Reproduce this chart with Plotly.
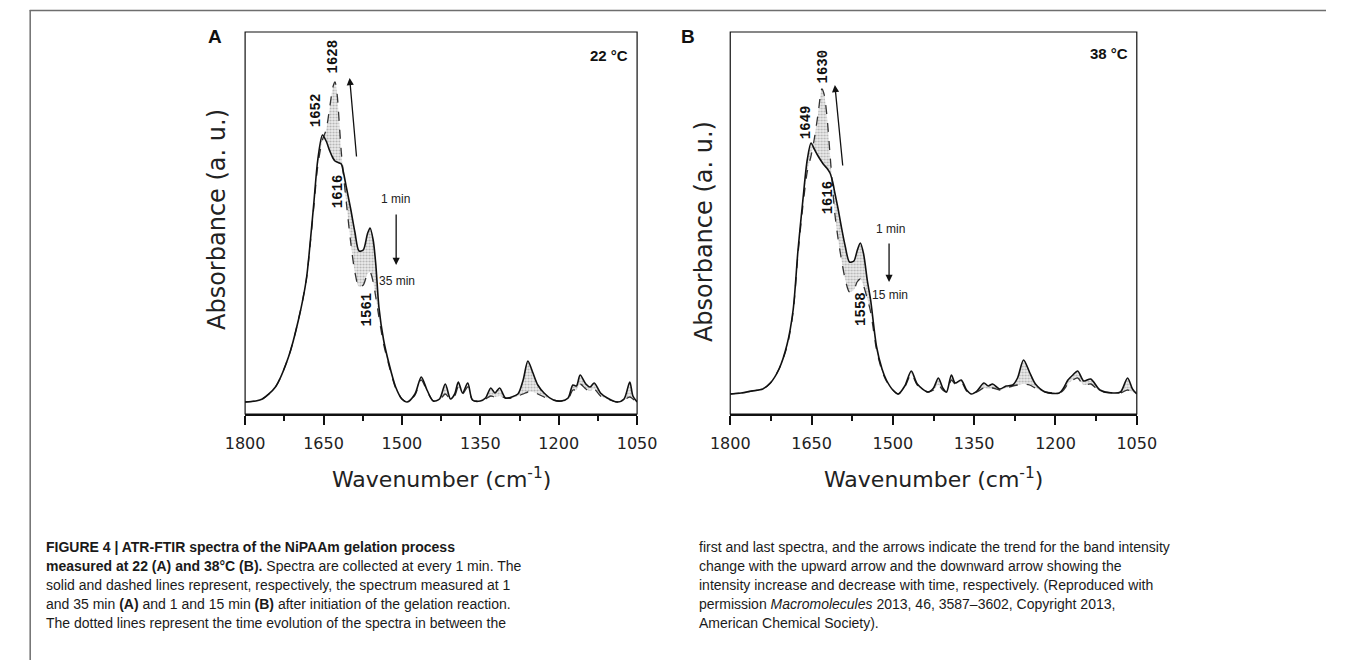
import plotly.graph_objects as go

# ---------------- data ----------------
wn_a = [1800, 1780, 1767, 1742, 1717, 1698, 1683, 1675, 1668, 1661,
        1652, 1645, 1638, 1632, 1628, 1624, 1620, 1616, 1612, 1606,
        1598, 1590, 1582, 1574, 1566, 1561, 1555, 1550, 1544, 1535,
        1525, 1512, 1500, 1490, 1475, 1463, 1452, 1440, 1428, 1417,
        1407, 1399, 1392, 1384, 1374, 1365, 1350, 1340, 1330, 1322,
        1313, 1302, 1290, 1278, 1268, 1259, 1250, 1240, 1228, 1210,
        1195, 1182, 1173, 1166, 1159, 1148, 1140, 1132, 1120, 1107,
        1088, 1075, 1064, 1058, 1050]
a_1min = [0, 1, 3, 15, 45, 82, 122, 162, 202, 242,
          267, 261, 251, 244, 241, 240, 239, 238, 230, 214,
          193, 170, 151, 152, 168, 174, 162, 138, 95, 62,
          39, 15, 3, 0, 8, 25, 12, 1, 3, 18,
          3, 8, 20, 9, 19, 2, 1, 4, 14, 9,
          14, 4, 5, 8, 22, 41, 30, 17, 9, 2,
          1, 4, 17, 16, 27, 18, 15, 19, 9, 4,
          0, 3, 20, 6, 0]
a_35min = [0, 1, 3, 15, 45, 82, 122, 160, 198, 236,
           262, 272, 295, 315, 320, 308, 280, 250, 228, 198,
           160, 130, 115, 117, 128, 130, 120, 105, 85, 58,
           37, 14, 3, 0, 7, 22, 11, 1, 2, 8,
           3, 6, 15, 8, 15, 2, 1, 3, 6, 5,
           6, 4, 4, 6, 8, 10, 10, 8, 5, 2,
           1, 3, 12, 12, 18, 13, 11, 13, 6, 3,
           0, 2, 5, 3, 0]

wn_b = [1800, 1780, 1760, 1740, 1726, 1710, 1695, 1684, 1675, 1666,
        1658, 1651, 1645, 1638, 1631, 1627, 1622, 1616, 1611, 1607,
        1601, 1595, 1588, 1580, 1572, 1566, 1560, 1554, 1547, 1541,
        1530, 1520, 1512, 1500, 1490, 1478, 1466, 1455, 1435, 1425,
        1416, 1408, 1401, 1392, 1385, 1374, 1364, 1355, 1345, 1332,
        1324, 1316, 1303, 1291, 1279, 1270, 1259, 1248, 1237, 1219,
        1193, 1185, 1177, 1168, 1159, 1148, 1135, 1118, 1094, 1080,
        1067, 1058, 1050]
b_1min = [0, 1, 3, 5, 11, 25, 50, 84, 144, 194,
          234, 251, 245, 238, 232, 229, 226, 221, 212, 201,
          185, 167, 148, 132, 133, 143, 151, 140, 113, 94,
          47, 25, 14, 4, 0, 8, 23, 10, 2, 6,
          16, 6, 2, 19, 11, 14, 4, 0, 3, 11,
          8, 10, 5, 8, 9, 16, 34, 22, 10, 2,
          1, 6, 14, 19, 23, 13, 15, 4, 1, 2,
          16, 5, 0]
b_15min = [0, 1, 3, 5, 11, 25, 48, 82, 140, 188,
           222, 238, 255, 280, 305, 300, 280, 240, 205, 180,
           155, 135, 115, 102, 104, 112, 115, 108, 95, 82,
           44, 23, 13, 4, 0, 7, 20, 9, 2, 4,
           9, 4, 2, 14, 10, 12, 3, 0, 2, 6,
           5, 6, 4, 6, 8, 9, 10, 9, 6, 2,
           1, 4, 10, 14, 16, 9, 10, 3, 1, 1,
           4, 2, 0]

tick_vals = [1800, 1650, 1500, 1350, 1200, 1050]
tick_text = ["1800", "1650", "1500", "1350", "1200", "1050"]
minor_vals = [1725, 1575, 1425, 1275, 1125]

peaks_a = [(1664, 292, "1652"), (1631, 346, "1628"), (1622, 211, "1616"), (1566, 93, "1561")]
peaks_b = [(1660, 272, "1649"), (1628, 328, "1630"), (1619, 197, "1616"), (1559, 85, "1558")]

caption_left = [
    "<b>FIGURE 4 | ATR-FTIR spectra of the NiPAAm gelation process</b>",
    "<b>measured at 22 (A) and 38°C (B).</b> Spectra are collected at every 1 min. The",
    "solid and dashed lines represent, respectively, the spectrum measured at 1",
    "and 35 min <b>(A)</b> and 1 and 15 min <b>(B)</b> after initiation of the gelation reaction.",
    "The dotted lines represent the time evolution of the spectra in between the",
]
caption_right = [
    "first and last spectra, and the arrows indicate the trend for the band intensity",
    "change with the upward arrow and the downward arrow showing the",
    "intensity increase and decrease with time, respectively. (Reproduced with",
    "permission <i>Macromolecules</i> 2013, 46, 3587–3602, Copyright 2013,",
    "American Chemical Society).",
]

# ---------------- layout constants ----------------
W, H = 1346, 660
def px(x):
    return x / W
def py(y):
    return 1 - y / H

Y_DOM = [py(414), py(32)]
SANS = "Liberation Sans, Arial, Helvetica"
AXFONT = "DejaVu Sans, Verdana"
MONO = "Liberation Mono, DejaVu Sans Mono, monospace"

fig = go.Figure()

fill_pattern = dict(shape=".", fgcolor="#7a7a7a", bgcolor="rgba(215,215,215,0.45)",
                    size=3, solidity=0.4)

def add_panel(wn, last, first, xa, ya):
    fig.add_trace(go.Scatter(x=wn, y=last, mode="lines", xaxis=xa, yaxis=ya,
                             line=dict(color="#333", width=1.3, dash="dash", shape="spline", smoothing=0.8),
                             showlegend=False, hoverinfo="skip"))
    fig.add_trace(go.Scatter(x=wn, y=first, mode="lines", xaxis=xa, yaxis=ya,
                             line=dict(color="#111", width=1.6, shape="spline", smoothing=0.8),
                             fill="tonexty", fillpattern=fill_pattern,
                             showlegend=False, hoverinfo="skip"))

add_panel(wn_a, a_35min, a_1min, "x", "y")
add_panel(wn_b, b_15min, b_1min, "x2", "y2")

xcommon = dict(range=[1800, 1050], tickmode="array", tickvals=tick_vals, ticktext=tick_text,
               ticks="outside", ticklen=9, tickwidth=1.5, tickcolor="#111",
               showline=True, linecolor="#111", linewidth=2, showgrid=False, zeroline=False,
               tickfont=dict(family=AXFONT, size=16, color="#222"), ticklabelstandoff=5,
               minor=dict(tickmode="array", tickvals=minor_vals, ticks="outside",
                          ticklen=5, tickwidth=1.5, tickcolor="#111", showgrid=False))
ycommon = dict(showticklabels=False, showgrid=False, zeroline=False, showline=False,
               ticks="", domain=Y_DOM)

fig.update_layout(
    width=W, height=H, autosize=False,
    margin=dict(l=0, r=0, t=0, b=0),
    paper_bgcolor="white", plot_bgcolor="white",
    xaxis=dict(domain=[px(232), px(636)], anchor="y", **xcommon),
    yaxis=dict(range=[-12, 370], anchor="x", **ycommon),
    xaxis2=dict(domain=[px(732), px(1151)], anchor="y2", **xcommon),
    yaxis2=dict(range=[-20, 362], anchor="x2", **ycommon),
)

shapes = []
for xr, yr in (("x", "y"), ("x2", "y2")):
    shapes.append(dict(type="rect", xref=f"{xr} domain", yref=f"{yr} domain",
                       x0=0, x1=1, y0=0, y1=1, line=dict(color="#111", width=1.2)))
# outer page frame lines
shapes.append(dict(type="line", xref="paper", yref="paper", x0=px(10), x1=1, y0=py(10.5), y1=py(10.5),
                   line=dict(color="#6e6e6e", width=1.5)))
shapes.append(dict(type="line", xref="paper", yref="paper", x0=px(10.5), x1=px(10.5), y0=py(10), y1=0,
                   line=dict(color="#6e6e6e", width=1.5)))
fig.update_layout(shapes=shapes)

ann = []
def label(text, x, y, xref="paper", yref="paper", **kw):
    if xref == "paper":
        x = px(x)
    if yref == "paper":
        y = py(y)
    d = dict(text=text, x=x, y=y, xref=xref, yref=yref, showarrow=False,
             xanchor="center", yanchor="middle")
    d.update(kw)
    ann.append(d)

# panel letters
label("<b>A</b>", 201, 36, font=dict(family=SANS, size=19, color="#111"))
label("<b>B</b>", 688, 36, font=dict(family=SANS, size=19, color="#111"))
# temperatures
label("<b>22 °C</b>", 607, 55, font=dict(family=SANS, size=15, color="#111"))
label("<b>38 °C</b>", 1122, 53, font=dict(family=SANS, size=15, color="#111"))
# axis titles
for cx, cy in ((203, 219), (705, 232)):
    label("Absorbance (a. u.)", cx, cy, textangle=-90,
          font=dict(family=AXFONT, size=24, color="#222"))
for cx in (434, 941):
    label("Wavenumber (cm<sup>-1</sup>)", cx, 478,
          font=dict(family=AXFONT, size=22, color="#222"))
# peak labels
for (xr, yr), peaks in ((("x", "y"), peaks_a), (("x2", "y2"), peaks_b)):
    for wx, hy, t in peaks:
        label(f"<b>{t}</b>", wx, hy, xref=xr, yref=yr, textangle=-90,
              font=dict(family=MONO, size=14, color="#111"))
# time labels
tfont = dict(family=SANS, size=12, color="#222")
label("1 min", 1513, 203, xref="x", yref="y", font=tfont)
label("35 min", 1509, 121, xref="x", yref="y", font=tfont)
label("1 min", 1505, 165, xref="x2", yref="y2", font=tfont)
label("15 min", 1506, 99, xref="x2", yref="y2", font=tfont)
# arrows
arrow_style = dict(showarrow=True, arrowhead=2, arrowsize=1.1, arrowwidth=1.3, arrowcolor="#111", text="")
ann.append(dict(x=1600, y=324, xref="x", yref="y", ax=7, ay=80, **arrow_style))
ann.append(dict(x=1511, y=137, xref="x", yref="y", ax=0, ay=-52, **arrow_style))
ann.append(dict(x=1607, y=309, xref="x2", yref="y2", ax=8, ay=82, **arrow_style))
ann.append(dict(x=1507, y=112, xref="x2", yref="y2", ax=0, ay=-40, **arrow_style))
# caption
cfont = dict(family=SANS, size=14, color="#1a1a1a")
for i, t in enumerate(caption_left):
    label(t, 25, 547 + 19 * i, xanchor="left", align="left", font=cfont)
for i, t in enumerate(caption_right):
    label(t, 698, 547 + 19 * i, xanchor="left", align="left", font=cfont)

fig.update_layout(annotations=ann)
fig.write_html("out.html")
